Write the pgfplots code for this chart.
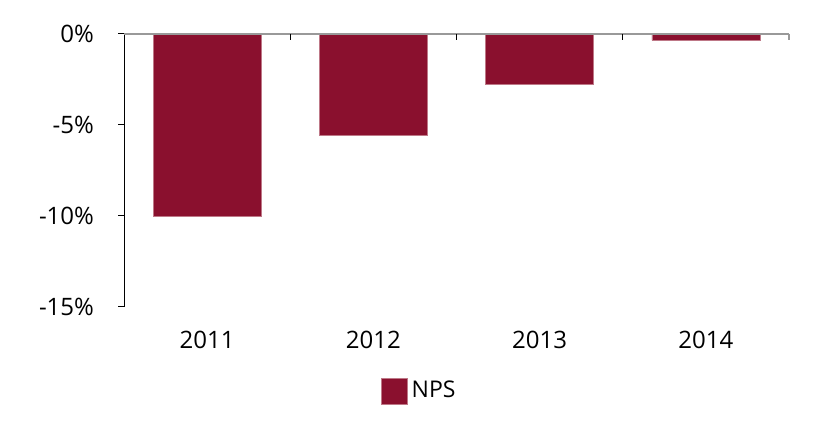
\documentclass[border=0pt]{standalone}
\usepackage{pgfplots}
\pgfplotsset{compat=1.18}
\usepackage{fontspec}
\setmainfont{Open Sans}
\definecolor{npsred}{RGB}{138,16,46}
\definecolor{npsedge}{RGB}{190,120,135}
\begin{document}
\begin{tikzpicture}
\useasboundingbox (0,0) rectangle (410.5pt,219.5pt);
\begin{axis}[
  at={(62pt,66pt)}, anchor=south west,
  scale only axis, width=332.5pt, height=136.5pt,
  xmin=-0.5, xmax=3.5, ymin=-15, ymax=0,
  axis y line=left, axis x line*=bottom,
  x axis line style={draw=none},
  y axis line style={black, line width=0.5pt, -},
  xtick={0,1,2,3}, xticklabels={2011,2012,2013,2014},
  major x tick style={draw=none},
  ytick={-15,-10,-5,0}, yticklabels={-15\%,-10\%,-5\%,0\%},
  ytick style={black, line width=0.5pt},
  tick align=outside, major tick length=3pt,
  tick label style={font=\fontsize{12}{14}\selectfont},
  yticklabel style={xshift=-8.5pt},
  xticklabel style={yshift=-5.5pt},
  clip=false,
  legend style={at={(axis description cs:0.386,-0.308)}, anchor=west, draw=none, fill=none, inner sep=0pt, font=\fontsize{11.5}{13}\selectfont},
  legend image code/.code={\fill[npsred, draw=npsedge, line width=0.3pt] (0pt,-6.5pt) rectangle (13pt,6.5pt);},
]
\addplot[ybar, bar width=0.65, bar shift=0pt, fill=npsred, draw=npsedge, line width=0.3pt]
  coordinates {(0,-10.0) (1,-5.55) (2,-2.78) (3,-0.35)};
\addlegendentry{NPS}
\draw[gray!80, line width=0.8pt] (axis cs:-0.5,0) -- (axis cs:3.5,0);
\draw[black, line width=0.5pt] (axis cs:0.5,0) -- ([yshift=-3pt]axis cs:0.5,0);
\draw[black, line width=0.5pt] (axis cs:1.5,0) -- ([yshift=-3pt]axis cs:1.5,0);
\draw[black, line width=0.5pt] (axis cs:2.5,0) -- ([yshift=-3pt]axis cs:2.5,0);
\draw[gray!80, line width=0.8pt] (axis cs:3.5,0) -- ([yshift=-3pt]axis cs:3.5,0);
\end{axis}
\end{tikzpicture}
\end{document}
